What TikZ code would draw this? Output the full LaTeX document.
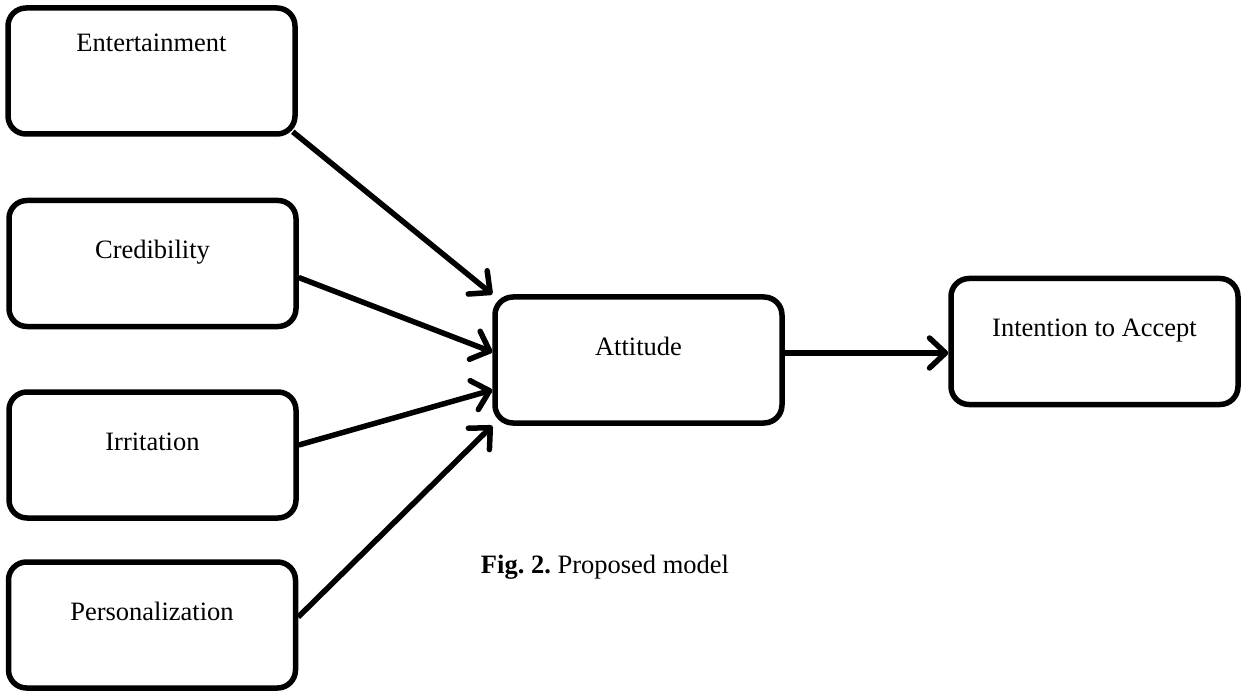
\documentclass[tikz,border=0pt]{standalone}
\usepackage{fontspec}
\setmainfont{Liberation Serif}
\usetikzlibrary{arrows.meta}
\frenchspacing
\begin{document}
\begin{tikzpicture}[x=1pt,y=-1pt,
        box/.style={draw,line width=5.5pt,rounded corners=18pt,minimum width=287pt,
            minimum height=126pt,inner sep=0pt,font=\fontsize{26.5}{32}\selectfont,
            text height=20pt,text depth=30pt},
        arr/.style={line width=5.5pt,-{Straight Barb[length=16pt,width=30pt,round]}}]
        \useasboundingbox (0,0) rectangle (1243,695);
        \node[box,text depth=58pt] (ent) at (151.5,71) {Entertainment};
        \node[box] (cred) at (152.5,263.5) {Credibility};
        \node[box] (irr) at (152.5,455) {Irritation};
        \node[box] (pers) at (152,625) {Personalization};
        \node[box] (att) at (638.5,360) {Attitude};
        \node[box] (int) at (1094.5,341.5) {Intention to Accept};
        \node[font=\fontsize{26.5}{32}\selectfont] (cap) at (605,567) {\textbf{Fig. 2.} Proposed model};
        \draw[arr] ([shift={(-5pt,5pt)}]ent.south east) -- (att.north west);
        \draw[arr] ([yshift=-14pt]cred.east) -- ([yshift=8pt]att.west);
        \draw[arr] ([yshift=10pt]irr.east) -- ([yshift=-30pt]att.west);
        \draw[arr] ([yshift=8pt]pers.east) -- (att.south west);
        \coordinate (attout) at ([yshift=7pt]att.east);
        \draw[arr] (attout) -- (attout -| int.west);
    \end{tikzpicture}
\end{document}
